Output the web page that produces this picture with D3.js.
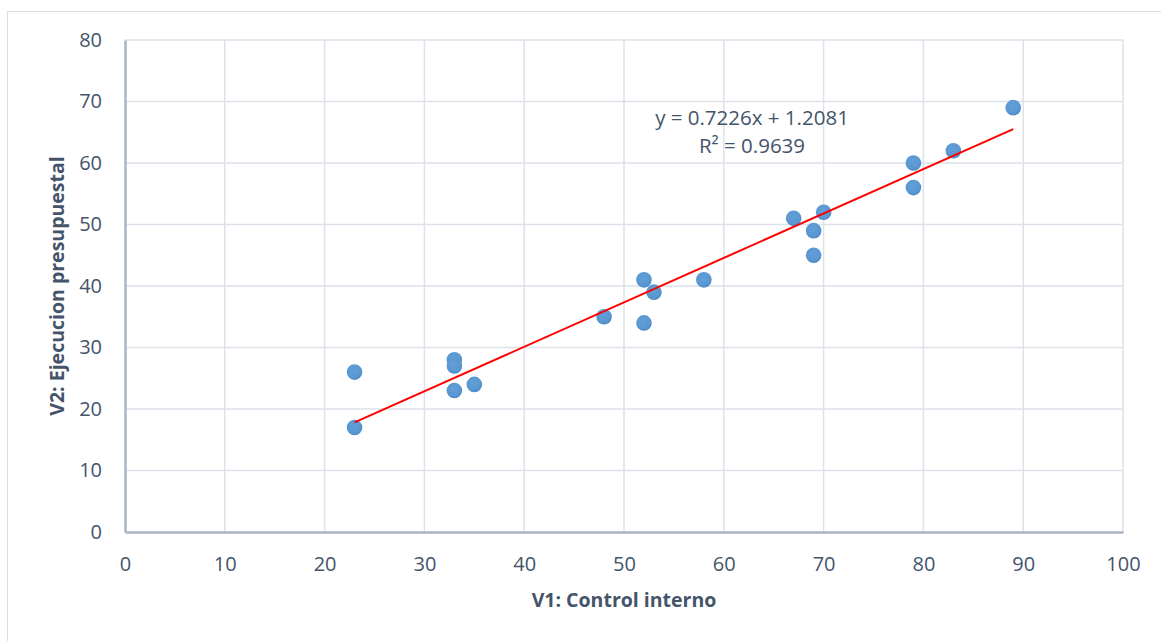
<!DOCTYPE html>
<html><head><meta charset="utf-8">
<script src="https://cdn.jsdelivr.net/npm/d3@7"></script>
<style>body{margin:0;background:#fff;}svg{display:block;font-family:"Open Sans","Noto Sans",sans-serif;}</style>
</head><body><svg id="c" width="1161" height="641"></svg>
<script>
const xValues = [23, 23, 33, 33, 33, 35, 48, 52, 52, 53, 58, 67, 69, 69, 70, 79, 79, 83, 89];
const yValues = [17, 26, 28, 27, 23, 24, 35, 41, 34, 39, 41, 51, 49, 45, 52, 60, 56, 62, 69];
const xTicks = [0,10,20,30,40,50,60,70,80,90,100];
const yTicks = [0,10,20,30,40,50,60,70,80];
const slope = 0.7226, intercept = 1.2081;
const eqLabel = "y = 0.7226x + 1.2081";
const r2Label = "R² = 0.9639";
const xTitle = "V1: Control interno";
const yTitle = "V2: Ejecucion presupuestal";

const svg = d3.select("#c");
const m = {l:125, r:1123, t:40, b:532};
const x = d3.scaleLinear().domain([0,100]).range([m.l, m.r]);
const y = d3.scaleLinear().domain([0,80]).range([m.b, m.t]);
const textColor = "#44546a";
const ff = "Open Sans, sans-serif";

svg.append("rect").attr("x",7.5).attr("y",11.5).attr("width",1200).attr("height",700)
  .attr("fill","none").attr("stroke","#d9dee6").attr("stroke-width",1);

// gridlines
svg.append("g").selectAll("line").data(xTicks.filter(d=>d>0)).join("line")
  .attr("x1",d=>x(d)).attr("x2",d=>x(d)).attr("y1",m.t).attr("y2",m.b)
  .attr("stroke","#dde2ea").attr("stroke-width",1.5);
svg.append("g").selectAll("line").data(yTicks.filter(d=>d>0)).join("line")
  .attr("x1",m.l).attr("x2",m.r).attr("y1",d=>y(d)).attr("y2",d=>y(d))
  .attr("stroke","#dde2ea").attr("stroke-width",1.5);

// axes
const xAxis = svg.append("g").attr("transform",`translate(0,${m.b})`)
  .call(d3.axisBottom(x).tickValues(xTicks).tickSize(0).tickPadding(25));
xAxis.select(".domain").attr("stroke","#a9b4c4").attr("stroke-width",2.5);
xAxis.selectAll("text").attr("fill",textColor).attr("font-size","20px").attr("font-family",ff);
const yAxis = svg.append("g").attr("transform",`translate(${m.l},0)`)
  .call(d3.axisLeft(y).tickValues(yTicks).tickSize(0).tickPadding(23));
yAxis.select(".domain").attr("stroke","#a9b4c4").attr("stroke-width",2.5);
yAxis.selectAll("text").attr("fill",textColor).attr("font-size","20px").attr("font-family",ff);

// gradient for points
const defs = svg.append("defs");
const grad = defs.append("radialGradient").attr("id","pg").attr("cx","45%").attr("cy","40%").attr("r","60%");
grad.append("stop").attr("offset","0%").attr("stop-color","#619fd8");
grad.append("stop").attr("offset","75%").attr("stop-color","#5a97d2");
grad.append("stop").attr("offset","100%").attr("stop-color","#4a86c3");

const pts = xValues.map((v,i)=>({x:v,y:yValues[i]}));
svg.append("g").selectAll("circle").data(pts).join("circle")
  .attr("cx",d=>x(d.x)).attr("cy",d=>y(d.y)).attr("r",7.8)
  .attr("fill","url(#pg)");

// trendline
const xmin = d3.min(xValues), xmax = d3.max(xValues);
svg.append("line")
  .attr("x1",x(xmin)).attr("y1",y(slope*xmin+intercept))
  .attr("x2",x(xmax)).attr("y2",y(slope*xmax+intercept))
  .attr("stroke","#ff0000").attr("stroke-width",2);

// equation
svg.append("text").attr("x",752).attr("y",125).attr("text-anchor","middle")
  .attr("fill",textColor).attr("font-size","20.5px").attr("font-family",ff).text(eqLabel);
svg.append("text").attr("x",752).attr("y",153).attr("text-anchor","middle")
  .attr("fill",textColor).attr("font-size","20.5px").attr("font-family",ff).text(r2Label);

// titles
svg.append("text").attr("x",(m.l+m.r)/2).attr("y",607).attr("text-anchor","middle")
  .attr("fill",textColor).attr("font-size","19.5px").attr("font-weight","bold").attr("font-family",ff).text(xTitle);
svg.append("text").attr("transform",`translate(64,${(m.t+m.b)/2}) rotate(-90)`).attr("text-anchor","middle")
  .attr("fill",textColor).attr("font-size","19.5px").attr("font-weight","bold").attr("font-family",ff).text(yTitle);
</script></body></html>
